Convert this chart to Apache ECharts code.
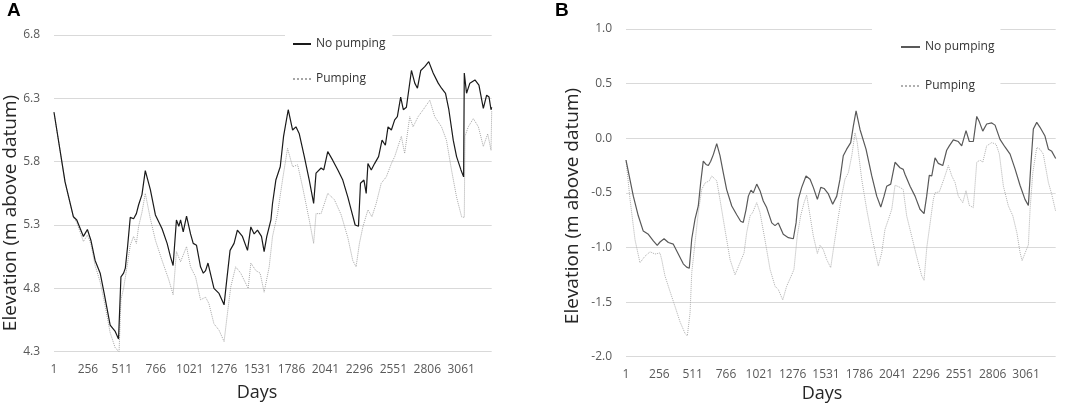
<!DOCTYPE html>
<html>
<head>
<meta charset="utf-8">
<title>Elevation - pumping vs no pumping</title>
<script src="https://cdn.jsdelivr.net/npm/echarts@6/dist/echarts.min.js"></script>
<style>
  html, body { margin: 0; padding: 0; background: #fff; }
  #chartA { position: absolute; left: 0; top: 0; width: 540px; height: 406px; }
  #chartB { position: absolute; left: 540px; top: 0; width: 532px; height: 406px; }
</style>
</head>
<body>
<div id="chartA"></div>
<div id="chartB"></div>
<script>
// values (day, elevation m above datum)
var seriesNames = ['No pumping', 'Pumping'];

// panel A
var daysA_np = [1, 84, 147, 172, 222, 252, 278, 310, 348, 378, 423, 461, 486, 504, 524, 537, 554, 574, 599, 620,
  637, 662, 687, 725, 763, 776, 813, 851, 876, 896, 921, 939, 952, 972, 997, 1027, 1047, 1072, 1102, 1123,
  1140, 1158, 1203, 1241, 1279, 1299, 1324, 1354, 1379, 1417, 1455, 1480, 1505, 1530, 1560, 1580, 1600, 1631, 1643, 1668,
  1701, 1726, 1761, 1794, 1819, 1844, 1882, 1919, 1952, 1970, 2008, 2028, 2058, 2096, 2134, 2171, 2209, 2234, 2264, 2289,
  2304, 2330, 2347, 2360, 2385, 2410, 2440, 2466, 2491, 2511, 2536, 2561, 2581, 2606, 2626, 2649, 2687, 2712, 2732, 2757,
  2787, 2817, 2850, 2888, 2913, 2943, 2968, 3001, 3026, 3059, 3079, 3084, 3101, 3126, 3164, 3194, 3227, 3252, 3270, 3285, 3290];
var elevA_np = [6.19, 5.64, 5.365, 5.34, 5.21, 5.265, 5.18, 5.02, 4.92, 4.76, 4.51, 4.46, 4.40, 4.89, 4.92, 4.96, 5.13, 5.36, 5.35, 5.39,
  5.46, 5.54, 5.73, 5.58, 5.38, 5.39, 5.27, 5.155, 5.05, 4.98, 5.34, 5.29, 5.34, 5.245, 5.37, 5.23, 5.155, 5.14, 4.97, 4.92,
  4.94, 5.0, 4.80, 4.76, 4.67, 4.865, 5.10, 5.155, 5.26, 5.21, 5.10, 5.285, 5.23, 5.26, 5.21, 5.09, 5.21, 5.34, 5.47, 5.655,
  5.76, 6.0, 6.21, 6.05, 6.075, 6.02, 5.84, 5.655, 5.47, 5.71, 5.75, 5.735, 5.88, 5.81, 5.735, 5.655, 5.52, 5.42, 5.30, 5.29,
  5.63, 5.655, 5.55, 5.785, 5.735, 5.785, 5.84, 5.97, 5.93, 6.075, 6.05, 6.13, 6.155, 6.31, 6.21, 6.23, 6.52, 6.42, 6.38, 6.52,
  6.55, 6.59, 6.50, 6.42, 6.38, 6.34, 6.21, 5.97, 5.84, 5.735, 5.68, 6.50, 6.34, 6.42, 6.445, 6.405, 6.22, 6.325, 6.31, 6.21, 6.23];

var daysA_p = [1, 84, 147, 172, 222, 252, 278, 310, 348, 378, 423, 461, 490, 504, 524, 554, 574, 599, 620, 637,
  662, 687, 725, 763, 813, 863, 896, 921, 952, 997, 1027, 1065, 1102, 1140, 1165, 1203, 1241, 1279, 1304, 1329,
  1366, 1404, 1460, 1480, 1518, 1550, 1580, 1618, 1643, 1681, 1718, 1756, 1794, 1832, 1869, 1919, 1952, 1970, 2008, 2058,
  2108, 2159, 2209, 2246, 2271, 2296, 2322, 2360, 2390, 2422, 2460, 2498, 2536, 2561, 2586, 2611, 2636, 2674, 2699, 2737,
  2775, 2825, 2862, 2913, 2950, 2988, 3026, 3064, 3084, 3089, 3114, 3152, 3190, 3227, 3260, 3285, 3290];
var elevA_p = [6.19, 5.64, 5.36, 5.32, 5.17, 5.22, 5.15, 4.98, 4.85, 4.70, 4.45, 4.33, 4.30, 4.71, 4.80, 5.0, 5.14, 5.21, 5.155, 5.29,
  5.40, 5.55, 5.35, 5.18, 5.02, 4.87, 4.75, 5.09, 5.01, 5.13, 4.97, 4.89, 4.71, 4.73, 4.68, 4.52, 4.47, 4.38, 4.60, 4.81,
  4.97, 4.92, 4.80, 5.0, 4.94, 4.92, 4.77, 4.97, 5.21, 5.39, 5.655, 5.905, 5.76, 5.775, 5.60, 5.34, 5.155, 5.39, 5.39, 5.55,
  5.50, 5.38, 5.20, 5.02, 4.97, 5.155, 5.285, 5.42, 5.365, 5.47, 5.63, 5.68, 5.785, 5.84, 5.92, 6.0, 5.865, 6.155, 6.075, 6.155,
  6.21, 6.285, 6.155, 6.075, 5.97, 5.735, 5.52, 5.365, 5.36, 6.0, 6.075, 6.14, 6.075, 5.92, 6.02, 5.89, 6.2];

// panel B
var daysB_np = [1, 57, 95, 133, 172, 210, 240, 261, 292, 325, 363, 401, 439, 465, 485, 504, 529, 554, 572, 592,
  613, 631, 649, 669, 695, 720, 745, 771, 810, 848, 878, 898, 919, 937, 957, 975, 1001, 1026, 1051, 1077,
  1116, 1141, 1166, 1204, 1243, 1281, 1302, 1319, 1345, 1378, 1409, 1434, 1465, 1491, 1516, 1549, 1582, 1613, 1638, 1663,
  1689, 1720, 1740, 1761, 1791, 1837, 1881, 1919, 1950, 1975, 1995, 2026, 2059, 2097, 2122, 2135, 2174, 2212, 2250, 2281,
  2301, 2321, 2340, 2365, 2390, 2424, 2454, 2474, 2505, 2543, 2569, 2602, 2627, 2658, 2684, 2704, 2730, 2760, 2799, 2824,
  2862, 2900, 2939, 2977, 3015, 3053, 3079, 3097, 3117, 3143, 3168, 3206, 3232, 3258, 3288];
var elevB_np = [-0.20, -0.53, -0.71, -0.85, -0.88, -0.94, -0.98, -0.95, -0.92, -0.955, -0.97, -1.06, -1.15, -1.18, -1.19, -0.92, -0.74, -0.62, -0.41, -0.21,
  -0.24, -0.25, -0.21, -0.15, -0.05, -0.16, -0.315, -0.47, -0.62, -0.70, -0.76, -0.77, -0.655, -0.53, -0.475, -0.50, -0.42, -0.48, -0.575, -0.635,
  -0.775, -0.80, -0.775, -0.88, -0.91, -0.92, -0.775, -0.56, -0.45, -0.345, -0.375, -0.45, -0.56, -0.45, -0.46, -0.51, -0.605, -0.53, -0.375, -0.16,
  -0.10, -0.04, 0.11, 0.25, 0.08, -0.10, -0.345, -0.53, -0.63, -0.53, -0.44, -0.42, -0.22, -0.27, -0.285, -0.33, -0.44, -0.53, -0.65, -0.69,
  -0.53, -0.34, -0.345, -0.18, -0.23, -0.25, -0.11, -0.07, -0.015, -0.03, -0.07, 0.07, -0.03, -0.03, 0.20, 0.15, 0.065, 0.13, 0.14, 0.12,
  -0.01, -0.08, -0.145, -0.28, -0.43, -0.56, -0.615, -0.26, 0.085, 0.145, 0.10, 0.02, -0.10, -0.12, -0.185];

var daysB_p = [1, 32, 70, 108, 146, 185, 223, 261, 274, 299, 337, 376, 414, 452, 470, 491, 504, 529, 554, 580,
  605, 638, 657, 695, 720, 758, 797, 835, 873, 904, 924, 950, 970, 1001, 1026, 1064, 1103, 1141, 1166, 1200,
  1230, 1269, 1286, 1311, 1337, 1363, 1383, 1409, 1434, 1465, 1485, 1510, 1536, 1567, 1587, 1618, 1651, 1676, 1702, 1728,
  1753, 1770, 1804, 1842, 1881, 1914, 1931, 1957, 1982, 2008, 2034, 2059, 2097, 2122, 2148, 2186, 2224, 2263, 2281, 2302,
  2327, 2352, 2365, 2398, 2434, 2467, 2493, 2518, 2543, 2577, 2602, 2627, 2658, 2684, 2709, 2730, 2760, 2799, 2832, 2857,
  2888, 2926, 2960, 2991, 3016, 3031, 3054, 3079, 3092, 3113, 3143, 3168, 3193, 3232, 3258, 3288];
var elevB_p = [-0.20, -0.56, -0.93, -1.14, -1.08, -1.04, -1.06, -1.05, -1.11, -1.26, -1.40, -1.54, -1.68, -1.785, -1.81, -1.60, -1.23, -0.955, -0.68, -0.47,
  -0.41, -0.39, -0.345, -0.39, -0.56, -0.835, -1.11, -1.25, -1.14, -1.05, -0.865, -0.71, -0.68, -0.59, -0.68, -0.93, -1.20, -1.355, -1.385, -1.48,
  -1.355, -1.25, -1.20, -0.895, -0.71, -0.59, -0.52, -0.71, -0.895, -1.055, -0.98, -1.02, -1.11, -1.185, -1.02, -0.775, -0.53, -0.375, -0.315, -0.16,
  0.05, -0.04, -0.375, -0.65, -0.895, -1.08, -1.17, -1.05, -0.835, -0.745, -0.65, -0.43, -0.45, -0.47, -0.71, -0.895, -1.08, -1.26, -1.30, -1.00,
  -0.78, -0.56, -0.50, -0.49, -0.37, -0.25, -0.345, -0.405, -0.53, -0.59, -0.48, -0.615, -0.635, -0.22, -0.20, -0.22, -0.07, -0.04, -0.055, -0.145,
  -0.44, -0.62, -0.71, -0.865, -1.05, -1.12, -1.05, -0.975, -0.65, -0.315, -0.085, -0.10, -0.145, -0.405, -0.515, -0.67];

var yTicksA = {min: 4.3, max: 6.8, step: 0.5};
var yTicksB = {min: -2.0, max: 1.0, step: 0.5};
var xTicks = {first: 1, step: 255};

var labelFont = '"Open Sans", "Noto Sans", sans-serif';

function pairs(days, vals) {
	var out = [];
	for (var i = 0; i < days.length; i++) {
		out.push([days[i], vals[i]]);
	}
	return out;
}

// one panel = one chart instance
function drawPanel(domId, p) {
	var myChart = echarts.init(document.getElementById(domId));
	var option = {
		animation: false,
		backgroundColor: '#fff',
		grid: { left: p.grid[0], top: p.grid[1], width: p.grid[2], height: p.grid[3] },
		legend: {
			orient: 'vertical',
			left: p.legend.left,
			top: p.legend.top,
			padding: p.legend.padding,
			itemGap: p.legend.gap,
			itemWidth: p.legend.itemWidth,
			itemHeight: 14,
			backgroundColor: '#fff',
			selectedMode: false,
			// hide the round marker, keep only the line sample
			itemStyle: { color: 'rgba(0,0,0,0)', borderWidth: 0, opacity: 0 },
			textStyle: { fontFamily: labelFont, fontSize: 12, color: '#333', lineHeight: 14 },
			data: seriesNames
		},
		xAxis: {
			type: 'value',
			min: xTicks.first,
			max: p.lastDay,
			interval: xTicks.step,
			axisLine: { show: false },
			axisTick: { show: false },
			splitLine: { show: false },
			axisLabel: {
				showMaxLabel: false, margin: 12, color: '#595959', fontFamily: labelFont, fontSize: 12,
				formatter: function (v) { return String(v); }
			}
		},
		yAxis: {
			type: 'value',
			min: p.yTicks.min,
			max: p.yTicks.max,
			interval: p.yTicks.step,
			axisLine: { show: false },
			axisTick: { show: false },
			splitLine: { lineStyle: { color: '#d9d9d9', width: 1 } },
			axisLabel: {
				margin: 14, color: '#595959', fontFamily: labelFont, fontSize: 12,
				formatter: function (v) { return v.toFixed(1); }
			}
		},
		graphic: [
			{ type: 'text', left: p.letter[0], top: p.letter[1],
			  style: { text: p.letter[2], font: 'bold 19px "Liberation Sans", Arial, sans-serif', fill: '#000' } },
			{ type: 'text', x: p.yTitle[0], y: p.yTitle[1], rotation: Math.PI / 2,
			  style: { text: 'Elevation (m above datum)', font: '19px ' + labelFont, fill: '#262626',
			           align: 'center', verticalAlign: 'middle' } },
			{ type: 'text', x: p.xTitle[0], y: p.xTitle[1],
			  style: { text: 'Days', font: '18px ' + labelFont, fill: '#262626',
			           align: 'center', verticalAlign: 'middle' } }
		],
		series: [
			{
				name: seriesNames[0],
				type: 'line',
				symbol: 'none',
				z: 3,
				lineStyle: { color: p.npColor, width: 1.2 },
				itemStyle: { color: p.npColor },
				data: pairs(p.npDays, p.npVals)
			},
			{
				name: seriesNames[1],
				type: 'line',
				symbol: 'none',
				z: 2,
				lineStyle: { color: p.pColor, width: 1, type: 'dotted' },
				itemStyle: { color: p.pColor },
				data: pairs(p.pDays, p.pVals)
			}
		]
	};
	myChart.setOption(option);
}

drawPanel('chartA', {
	grid: [54, 35, 437.7, 316.7],
	lastDay: 3290,
	yTicks: yTicksA,
	legend: { left: 285, top: 32, padding: [5, 7, 5, 7], gap: 21, itemWidth: 18 },
	letter: [7, 1, 'A'],
	yTitle: [11, 213],
	xTitle: [257, 393],
	npColor: '#1a1a1a',
	pColor: '#a6a6a6',
	npDays: daysA_np, npVals: elevA_np,
	pDays: daysA_p, pVals: elevA_p
});

drawPanel('chartB', {
	grid: [86, 29, 429.7, 327.7],
	lastDay: 3288,
	yTicks: yTicksB,
	legend: { left: 332, top: 27, padding: [13, 6, 5, 28], gap: 25, itemWidth: 19 },
	letter: [15, 1, 'B'],
	yTitle: [33, 206],
	xTitle: [282, 394],
	npColor: '#595959',
	pColor: '#b0b0b0',
	npDays: daysB_np, npVals: elevB_np,
	pDays: daysB_p, pVals: elevB_p
});
</script>
</body>
</html>
